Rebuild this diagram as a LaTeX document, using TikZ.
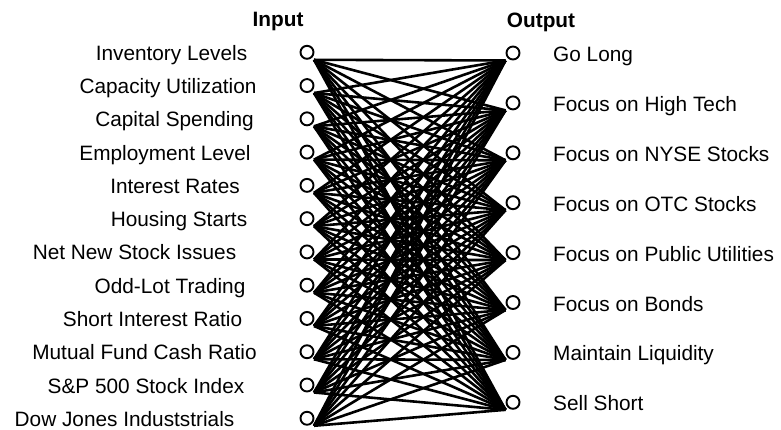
\documentclass[tikz,border=0pt]{standalone}
\usepackage{fontspec}
\setmainfont{Liberation Sans}
\begin{document}
\begin{tikzpicture}[x=1pt,y=-1pt,
  unit/.style={circle,draw,fill=white,line width=1.9pt,minimum size=13pt,inner sep=0pt},
  lbl/.style={font=\fontsize{20.8}{25}\selectfont,inner sep=0pt,anchor=base},
  olbl/.style={font=\fontsize{20.8}{25}\selectfont,inner sep=0pt,anchor=base west},
  ttl/.style={font=\fontsize{20.8}{25}\selectfont\bfseries,inner sep=0pt,anchor=base},
  link/.style={line width=2.6pt}]
\useasboundingbox (0,0) rectangle (781,430);
\node[ttl] (tin) at (278,27) {Input};
\node[ttl] (tout) at (541,28) {Output};
\foreach \i/\t/\lx in {1/Inventory Levels/171.5, 2/Capacity Utilization/168, 3/Capital Spending/174.5, 4/Employment Level/165, 5/Interest Rates/175, 6/Housing Starts/179, 7/Net New Stock Issues/134.5, 8/Odd-Lot Trading/170, 9/Short Interest Ratio/152.5, 10/Mutual Fund Cash Ratio/144.5, 11/S\&P 500 Stock Index/146, 12/Dow Jones Induststrials/124.5} {
  \pgfmathsetmacro\yy{52.3+(\i-1)*33.27}
  \coordinate (ia\i) at (314,\yy+7.5);
  \node[lbl] (inl\i) at (\lx,\yy+8) {\t};
}
\foreach \j/\t in {1/Go Long, 2/Focus on High Tech, 3/Focus on NYSE Stocks, 4/Focus on OTC Stocks, 5/Focus on Public Utilities, 6/Focus on Bonds, 7/Maintain Liquidity, 8/Sell Short} {
  \pgfmathsetmacro\yy{53+(\j-1)*49.9}
  \coordinate (oa\j) at (505.5,\yy+7.5);
  \node[olbl] (outl\j) at (553,\yy+8.5) {\t};
}
\foreach \i in {1,...,12} {
  \foreach \j in {1,...,8} {
    \draw[link] (ia\i) -- (oa\j);
  }
}
\foreach \i in {1,...,12} {
  \pgfmathsetmacro\yy{52.3+(\i-1)*33.27}
  \node[unit] (in\i) at (307,\yy) {};
}
\foreach \j in {1,...,8} {
  \pgfmathsetmacro\yy{53+(\j-1)*49.9}
  \node[unit] (out\j) at (513,\yy) {};
}
\end{tikzpicture}
\end{document}
